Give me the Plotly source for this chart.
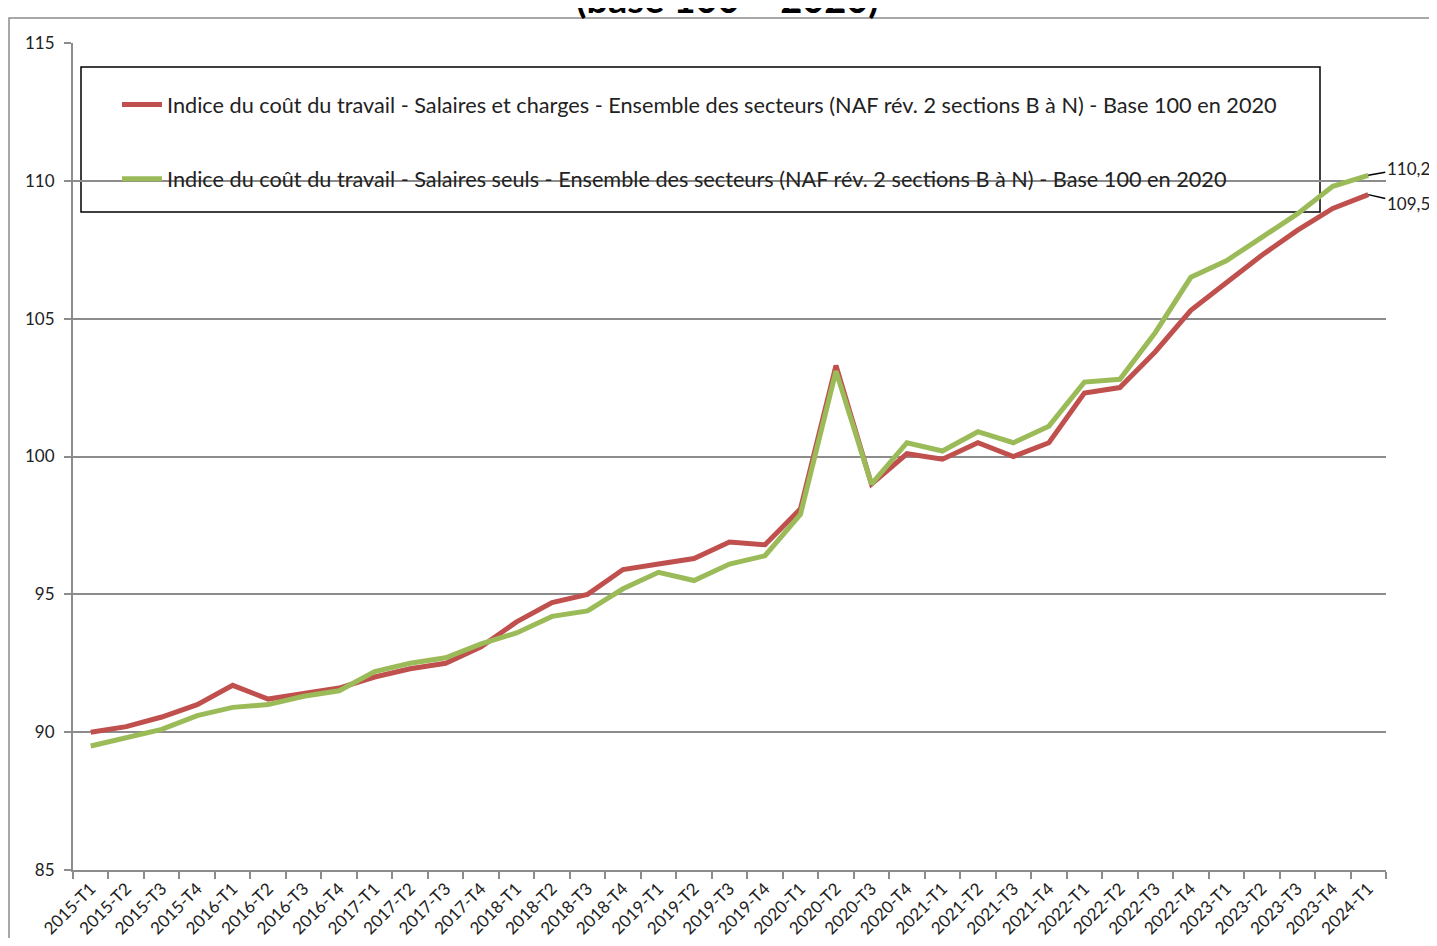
import plotly.graph_objects as go

quarters = [
    "2015-T1", "2015-T2", "2015-T3", "2015-T4",
    "2016-T1", "2016-T2", "2016-T3", "2016-T4",
    "2017-T1", "2017-T2", "2017-T3", "2017-T4",
    "2018-T1", "2018-T2", "2018-T3", "2018-T4",
    "2019-T1", "2019-T2", "2019-T3", "2019-T4",
    "2020-T1", "2020-T2", "2020-T3", "2020-T4",
    "2021-T1", "2021-T2", "2021-T3", "2021-T4",
    "2022-T1", "2022-T2", "2022-T3", "2022-T4",
    "2023-T1", "2023-T2", "2023-T3", "2023-T4",
    "2024-T1",
]

salaires_charges = [
    90.0, 90.2, 90.55, 91.0,
    91.7, 91.2, 91.4, 91.6,
    92.0, 92.3, 92.5, 93.1,
    94.0, 94.7, 95.0, 95.9,
    96.1, 96.3, 96.9, 96.8,
    98.1, 103.3, 99.0, 100.1,
    99.9, 100.5, 100.0, 100.5,
    102.3, 102.5, 103.8, 105.3,
    106.3, 107.3, 108.2, 109.0,
    109.5,
]

salaires_seuls = [
    89.5, 89.8, 90.1, 90.6,
    90.9, 91.0, 91.3, 91.5,
    92.2, 92.5, 92.7, 93.2,
    93.6, 94.2, 94.4, 95.2,
    95.8, 95.5, 96.1, 96.4,
    97.9, 103.1, 99.0, 100.5,
    100.2, 100.9, 100.5, 101.1,
    102.7, 102.8, 104.5, 106.5,
    107.1, 107.95, 108.8, 109.8,
    110.2,
]

series_names = [
    "Indice du coût du travail - Salaires et charges - Ensemble des secteurs (NAF rév. 2 sections B à N) - Base 100 en 2020",
    "Indice du coût du travail - Salaires seuls - Ensemble des secteurs (NAF rév. 2 sections B à N) - Base 100 en 2020",
]
end_labels = ["109,5", "110,2"]
y_ticks = [85, 90, 95, 100, 105, 110, 115]
title_text = "(base 100 = 2020)"

RED = "#C0504D"
GREEN = "#9BBB59"
FONT = "Lato, 'Liberation Sans', sans-serif"

# plot area in page pixels (page has an 8px body margin around the figure)
PX0, PX1, PY0, PY1 = 73, 1386, 43, 870
PW, PH = PX1 - PX0, PY1 - PY0


def px(x):
    return (x - PX0) / PW


def py(y):
    return 1 - (y - PY0) / PH


fig = go.Figure()
fig.add_trace(go.Scatter(x=quarters, y=salaires_charges, mode="lines",
                         name=series_names[0], line=dict(color=RED, width=5),
                         legendgroup="a"))
fig.add_trace(go.Scatter(x=quarters, y=salaires_seuls, mode="lines",
                         name=series_names[1], line=dict(color=GREEN, width=5),
                         legendgroup="b"))

# End-point labels
fig.add_annotation(x=quarters[-1], y=salaires_seuls[-1], text=end_labels[1],
                   showarrow=True, arrowhead=0, arrowwidth=1.5, arrowcolor="black",
                   ax=40, ay=-7, xanchor="center", yanchor="middle",
                   font=dict(family=FONT, size=17, color="#222"))
fig.add_annotation(x=quarters[-1], y=salaires_charges[-1], text=end_labels[0],
                   showarrow=True, arrowhead=0, arrowwidth=1.5, arrowcolor="black",
                   ax=40, ay=9, xanchor="center", yanchor="middle",
                   font=dict(family=FONT, size=17, color="#222"))

# Partially visible title (cut by the top edge, as in the reference)
fig.add_annotation(xref="paper", yref="paper", x=px(727), y=py(23),
                   text="<b>" + title_text + "</b>", showarrow=False,
                   xanchor="center", yanchor="bottom",
                   font=dict(family=FONT, size=38, color="black"))

# Outer chart-area frame
fig.add_shape(type="rect", xref="paper", yref="paper",
              x0=px(9), x1=1.2, y0=-0.5, y1=py(18),
              line=dict(color="#8c8c8c", width=1.5), fillcolor="rgba(0,0,0,0)",
              layer="below")

# Legend frame
fig.add_shape(type="rect", xref="paper", yref="paper",
              x0=px(81), x1=px(1320), y0=py(212), y1=py(67),
              line=dict(color="black", width=1.5), fillcolor="white",
              layer="below")

fig.update_layout(
    width=1421, height=930,
    margin=dict(l=PX0 - 8, r=1429 - PX1, t=PY0 - 8, b=938 - PY1),
    plot_bgcolor="white", paper_bgcolor="white",
    font=dict(family=FONT, color="black"),
    showlegend=True,
    legend=dict(x=px(117), y=py(84),
                xanchor="left", yanchor="top",
                bgcolor="rgba(0,0,0,0)", borderwidth=0,
                font=dict(family=FONT, size=21.7, color="#222"),
                tracegroupgap=43, itemwidth=40, traceorder="grouped"),
    xaxis=dict(
        type="category", categoryorder="array", categoryarray=quarters,
        tickson="boundaries", ticks="outside", ticklen=7, tickcolor="#8c8c8c",
        tickwidth=1.5, showline=True, linecolor="#8c8c8c", linewidth=2,
        showgrid=False, tickangle=-45, automargin=False,
        tickfont=dict(family=FONT, size=17, color="#222"),
        range=[-0.5, len(quarters) - 0.5],
    ),
    yaxis=dict(
        range=[85, 115], tickvals=y_ticks, ticktext=[str(v) for v in y_ticks],
        ticks="outside", ticklen=7, tickcolor="#8c8c8c", tickwidth=1.5,
        ticklabelstandoff=6, automargin=False,
        showline=True, linecolor="#8c8c8c", linewidth=2,
        showgrid=True, gridcolor="#8c8c8c", gridwidth=1.5, zeroline=False,
        tickfont=dict(family=FONT, size=17, color="#222"),
    ),
)

fig.write_html("out.html")
